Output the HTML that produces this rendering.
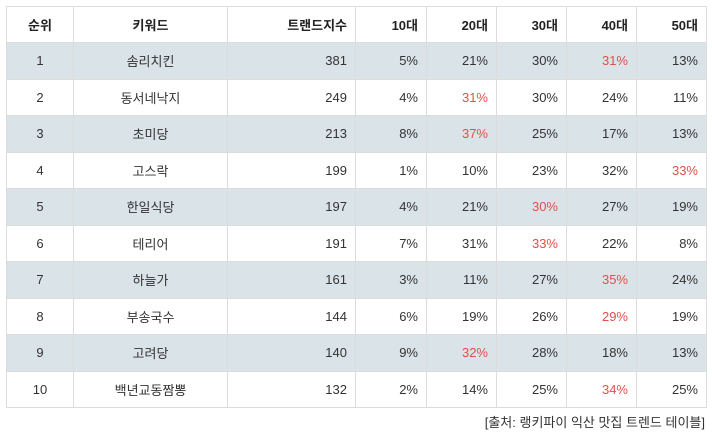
<!DOCTYPE html>
<html><head><meta charset="utf-8"><style>
body{margin:0;background:#fff;width:712px;height:436px;overflow:hidden;font-family:"Liberation Sans","Noto Sans CJK KR",sans-serif;}
table{position:absolute;left:6px;top:6px;border-collapse:collapse;width:700px;table-layout:fixed;font-size:13px;color:#333;}
td,th{border:1px solid #dcdcdc;height:35.5px;padding:0 8px;text-align:right;}
th{font-weight:bold;height:35px;color:#222;}
.c{text-align:center;}
tr.s td{background:#dae3e8;}
.r{color:#e0504a;}
#cap{position:absolute;right:7px;top:412px;font-size:13px;color:#333;}
</style></head><body>
<table>
<colgroup><col style="width:67px"><col style="width:154px"><col style="width:128px"><col style="width:71px"><col style="width:70px"><col style="width:70px"><col style="width:70px"><col style="width:70px"></colgroup>
<thead><tr><th class="c">순위</th><th class="c">키워드</th><th>트랜드지수</th><th>10대</th><th>20대</th><th>30대</th><th>40대</th><th>50대</th></tr></thead>
<tbody id="tb"></tbody></table>
<div id="cap">[출처: 랭키파이 익산 맛집 트렌드 테이블]</div>
<script>
const keywords=["솜리치킨","동서네낙지","초미당","고스락","한일식당","테리어","하늘가","부송국수","고려당","백년교동짬뽕"];
const trend=[381,249,213,199,197,191,161,144,140,132];
const age10=[5,4,8,1,4,7,3,6,9,2];
const age20=[21,31,37,10,21,31,11,19,32,14];
const age30=[30,30,25,23,30,33,27,26,28,25];
const age40=[31,24,17,32,27,22,35,29,18,34];
const age50=[13,11,13,33,19,8,24,19,13,25];
const tb=document.getElementById('tb');
keywords.forEach((k,i)=>{
  const tr=document.createElement('tr');
  
  
  if(i%2===0)tr.className='s';
  const ages=[age10[i],age20[i],age30[i],age40[i],age50[i]];
  const mx=Math.max(...ages);
  let h='<td class="c">'+(i+1)+'</td><td class="c">'+k+'</td><td>'+trend[i]+'</td>';
  ages.forEach(a=>{h+='<td'+(a===mx?' class="r"':'')+'>'+a+'%</td>';});
  tr.innerHTML=h;
  tb.appendChild(tr);
});
</script>
</body></html>
